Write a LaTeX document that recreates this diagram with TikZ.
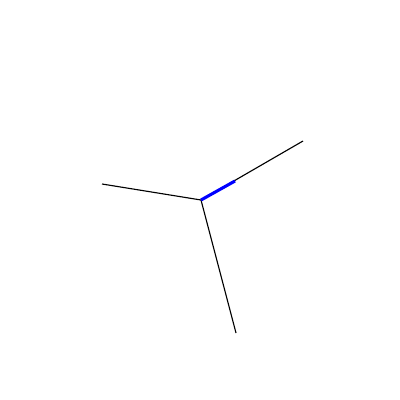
\documentclass[tikz,border=0pt]{standalone}
\usepackage{xcolor}
\usepackage{tikz}
\usetikzlibrary{positioning}

\begin{document}
\begin{tikzpicture}[
    x=0.025cm, y=-0.025cm,
    spoke/.style={draw=black, line width=0.8pt},
    hilite/.style={draw=blue, line width=2.2pt},
]
    \useasboundingbox (0,0) rectangle (400,400);
    \coordinate (hub) at (201,200);
    \coordinate (west) at (102,184);
    \coordinate (east) at (303,141);
    \coordinate (south) at (236,333);
    \coordinate (mark) at (235,181);

    \draw[spoke] (hub) -- (west);
    \draw[spoke] (hub) -- (east);
    \draw[spoke] (hub) -- (south);
    \draw[hilite] (hub) -- (mark);
\end{tikzpicture}
\end{document}
